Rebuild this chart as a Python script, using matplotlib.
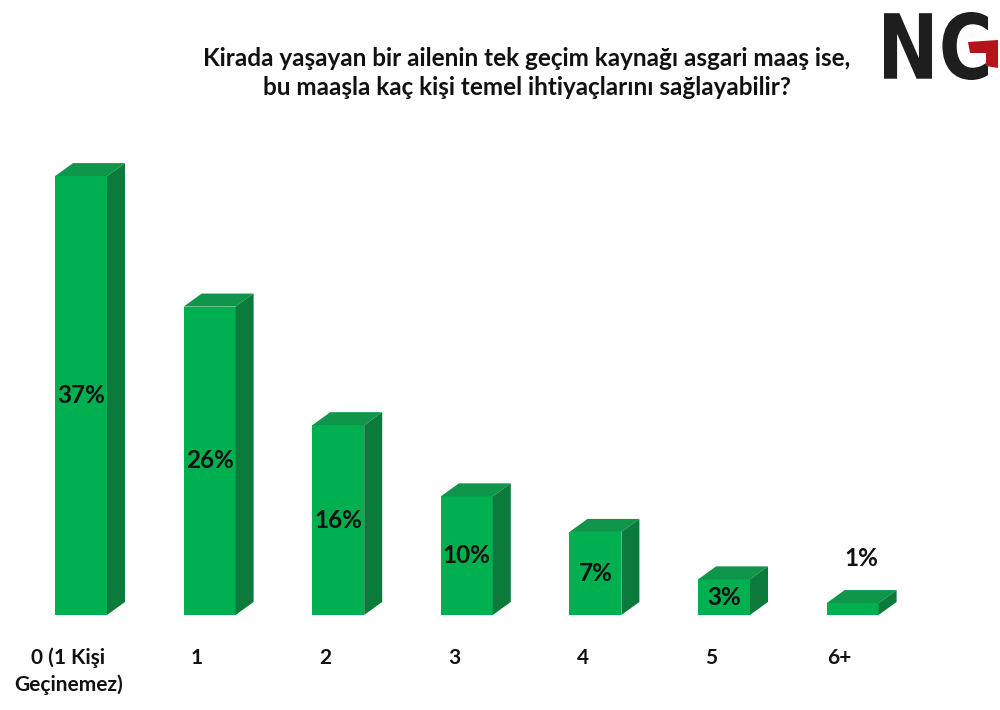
import matplotlib
matplotlib.use("Agg")
import matplotlib.pyplot as plt
from matplotlib.patches import Polygon, PathPatch
from matplotlib.textpath import TextPath
from matplotlib.font_manager import FontProperties
from matplotlib.transforms import Affine2D, IdentityTransform

# data
categories = ["0 (1 Kişi\nGeçinemez)", "1", "2", "3", "4", "5", "6+"]
values = [37, 26, 16, 10, 7, 3, 1]
title = ("Kirada yaşayan bir ailenin tek geçim kaynağı asgari maaş ise,\n"
         "bu maaşla kaç kişi temel ihtiyaçlarını sağlayabilir?")

plt.rcParams["font.family"] = ["Lato", "DejaVu Sans"]

FRONT = "#00b050"
TOP = "#10964a"
SIDE = "#0b7a3a"
INK = "#111111"

fig = plt.figure(figsize=(10, 7.1), dpi=100)
ax = fig.add_axes([0, 0, 1, 1])
ax.set_xlim(-0.63, 7.146)
ax.set_ylim(-8.01, 51.85)
ax.axis("off")

w = 0.404      # bar width in category units
dx = 0.14      # depth offset x
dy = 1.1       # depth offset y

for i, v in enumerate(values):
    x0, x1 = i - w / 2, i + w / 2
    ax.add_patch(Polygon([(x0, 0), (x1, 0), (x1, v), (x0, v)],
                         closed=True, facecolor=FRONT, edgecolor="none"))
    ax.add_patch(Polygon([(x0, v), (x1, v), (x1 + dx, v + dy), (x0 + dx, v + dy)],
                         closed=True, facecolor=TOP, edgecolor="none"))
    ax.add_patch(Polygon([(x1, 0), (x1 + dx, dy), (x1 + dx, v + dy), (x1, v)],
                         closed=True, facecolor=SIDE, edgecolor="none"))
    if v >= 3:
        ax.text(i, v / 2, f"{v}%", ha="center", va="center",
                fontsize=17.5, fontweight="bold", color=INK)
    else:
        ax.text(i + dx / 2, v + 3.8, f"{v}%", ha="center", va="center",
                fontsize=17.5, fontweight="bold", color=INK)
    ax.text(i - 0.1, -2.75, categories[i], ha="center", va="top",
            fontsize=15, fontweight="bold", color=INK, linespacing=1.35)

fig.text(0.527, 0.897, title, ha="center", va="center", fontsize=17.5,
         fontweight="bold", color=INK, linespacing=1.3)

# logo: condensed "NC" with a red crossbar making the G
H = 710
fp = FontProperties(family="DejaVu Sans", weight="bold")
tp = TextPath((0, 0), "NC", size=1, prop=fp)
bb = tp.get_extents()
logo_tr = (Affine2D().translate(-bb.x0, -bb.y0)
           .scale(104 / bb.width, 68 / bb.height)
           .translate(884, H - 80))
fig.patches.append(PathPatch(logo_tr.transform_path(tp), transform=IdentityTransform(),
                             facecolor="#1e1e1e", edgecolor="none"))
red = [(968, 42), (998, 40), (998, 68), (986, 66), (986, 53), (970, 53)]
fig.patches.append(Polygon([(x, H - y) for x, y in red], closed=True,
                           transform=IdentityTransform(),
                           facecolor="#b3151b", edgecolor="none"))

plt.savefig("out.png", dpi=100)
plt.close()
